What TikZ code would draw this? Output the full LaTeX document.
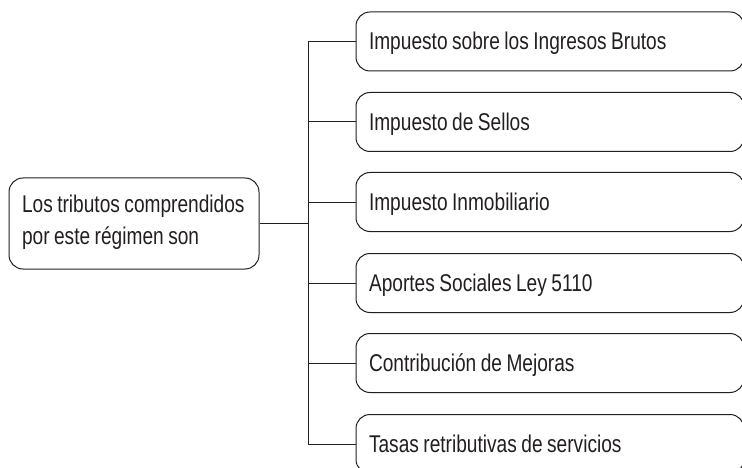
\documentclass[tikz,border=0pt]{standalone}
\usepackage{fontspec}
\setmainfont{Liberation Sans}[FakeStretch=0.79]
\definecolor{ink}{HTML}{231F20}
\newcommand{\myboxfont}{\fontsize{24.2}{31.3}\selectfont\spaceskip=4.5pt\relax}
\begin{document}
\begin{tikzpicture}[x=1pt,y=-1pt,
  box/.style={draw=ink, line width=1pt, rounded corners=14pt, text=ink,
    font=\myboxfont, align=flush left, inner xsep=13pt, inner ysep=0pt},
  rootbox/.style={box, text width=224pt, minimum height=91pt, text height=17.3pt, text depth=38.8pt},
  itembox/.style={box, text width=362pt, minimum height=59pt, text height=17pt, text depth=0pt},
  link/.style={draw=ink, line width=1pt}]
\clip (0,0) rectangle (742,468);
\node[rootbox] (root) at (134,223.5) {Los tributos comprendidos\\por este régimen son};
\node[itembox] (b1) at (550,41.5) {Impuesto sobre los Ingresos Brutos};
\node[itembox] (b2) at (550,122) {Impuesto de Sellos};
\node[itembox] (b3) at (550,202) {Impuesto Inmobiliario};
\node[itembox] (b4) at (550,283) {Aportes Sociales Ley 5110};
\node[itembox] (b5) at (550,363) {Contribución de Mejoras};
\node[itembox] (b6) at (550,444) {Tasas retributivas de servicios};
\coordinate (tx) at (308,0);
\draw[link] (b1.west) -- (b1.west -| tx) -- (b6.west -| tx) -- (b6.west);
\foreach \i in {2,3,4,5} { \draw[link] (b\i.west) -- (b\i.west -| tx); }
\draw[link] (root.east) -- (root.east -| tx);
\end{tikzpicture}
\end{document}
